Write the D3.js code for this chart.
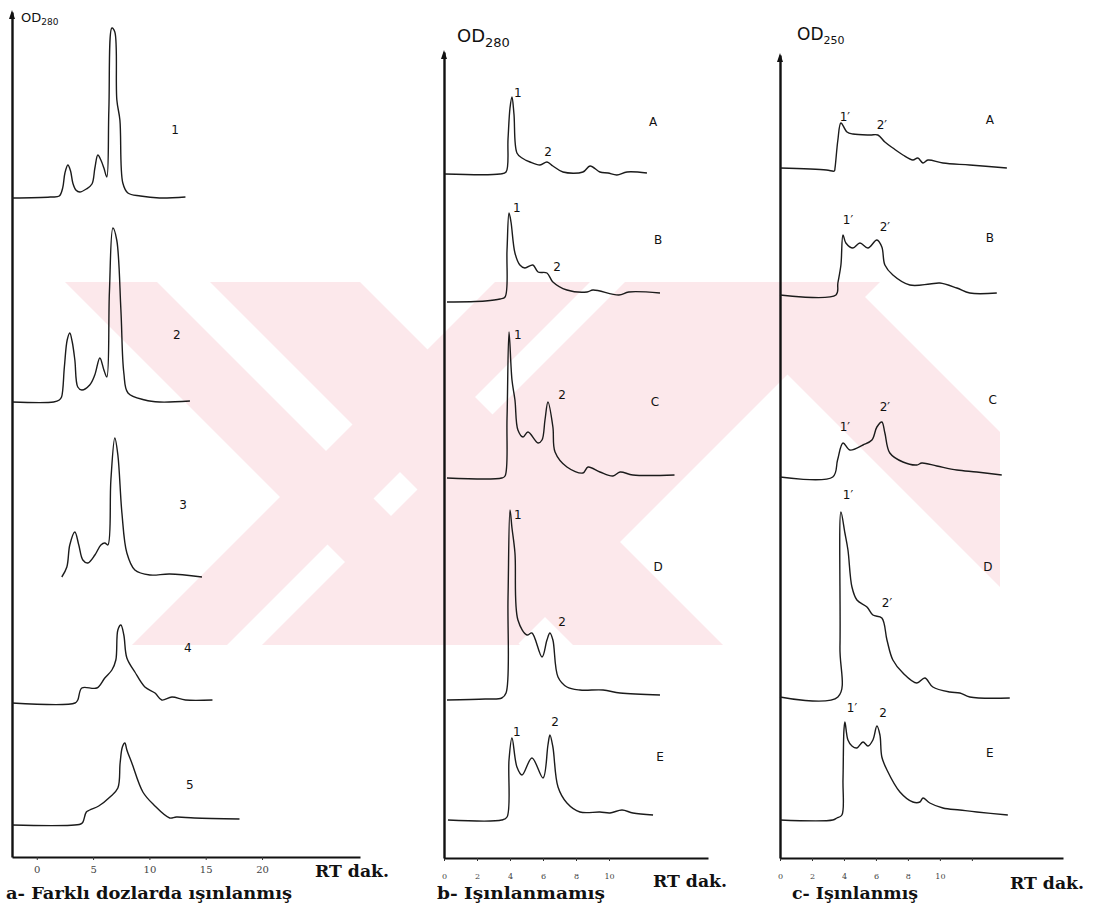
<!DOCTYPE html>
<html>
<head>
<meta charset="utf-8">
<script src="https://cdn.jsdelivr.net/npm/d3@7"></script>
<style>
  body { margin: 0; background: #fff; }
  text { fill: #111; }
</style>
</head>
<body>
<script>
// Chromatogram readings: [retention time (min), OD above the trace baseline]
// a- Farkli dozlarda isinlanmis (doses 1..5)
const traceA1 = [[-2.2,0],[1.2,0.01],[2.0,0.02],[2.3,0.1],[2.5,0.25],[2.76,0.33],[3.0,0.27],[3.2,0.15],[3.47,0.08],[3.82,0.06],[4.4,0.09],[4.9,0.14],[5.16,0.3],[5.42,0.43],[5.69,0.38],[5.96,0.3],[6.22,0.21],[6.4,0.88],[6.67,1.7],[6.93,1.66],[7.11,0.98],[7.38,0.78],[7.64,0.15],[8.09,0.05],[9.2,0.02],[10.9,0],[13.2,0.01]];
const traceA2 = [[-2.2,0],[1.5,0],[2.0,0.02],[2.2,0.05],[2.45,0.35],[2.7,0.62],[2.93,0.69],[3.15,0.6],[3.38,0.42],[3.64,0.15],[4.0,0.12],[4.7,0.17],[5.15,0.27],[5.6,0.44],[5.96,0.32],[6.22,0.25],[6.45,1.1],[6.76,1.74],[7.1,1.62],[7.47,0.92],[7.73,0.29],[8.1,0.09],[9.6,0.02],[10.9,0],[13.6,0.01]];
const traceA3 = [[2.22,0],[2.67,0.1],[2.93,0.32],[3.38,0.45],[3.73,0.32],[4.09,0.17],[4.53,0.14],[5.16,0.22],[5.69,0.32],[6.04,0.34],[6.31,0.32],[6.58,0.97],[6.93,1.39],[7.2,1.22],[7.56,0.64],[8.0,0.24],[8.71,0.07],[10.04,0.02],[11.8,0.03],[14.67,0]];
const traceA4 = [[-2.2,0],[3.4,0],[3.64,0.03],[4.0,0.15],[5.33,0.15],[6.04,0.25],[6.67,0.33],[7.02,0.43],[7.2,0.73],[7.47,0.78],[7.73,0.68],[8.0,0.45],[8.71,0.31],[9.6,0.16],[10.5,0.1],[11.1,0.03],[12.0,0.06],[13.2,0.03],[15.6,0.03]];
const traceA5 = [[-2.2,0],[3.9,0.01],[4.1,0.03],[4.4,0.13],[4.7,0.15],[5.5,0.19],[6.5,0.28],[7.2,0.37],[7.4,0.62],[7.6,0.78],[7.82,0.82],[8.0,0.75],[8.44,0.62],[9.42,0.33],[10.4,0.2],[11.8,0.07],[12.4,0.08],[14,0.07],[18.0,0.06]];

// b- Isinlanmamis (samples A..E)
const traceB1 = [[0.06,0],[3.39,0],[3.76,0.02],[3.88,0.35],[4.0,0.66],[4.12,0.77],[4.24,0.6],[4.42,0.21],[4.73,0.16],[5.21,0.12],[5.82,0.09],[6.24,0.12],[6.6,0.08],[7.21,0.02],[8.42,0.02],[8.85,0.08],[9.45,0.02],[9.94,0.01],[10.48,-0.01],[11.09,0.02],[12.3,0.01]];
const traceB2 = [[0.18,-0.02],[2.5,-0.01],[3.4,0.01],[3.7,0.03],[3.82,0.5],[3.94,0.87],[4.06,0.78],[4.3,0.47],[4.6,0.35],[4.9,0.32],[5.39,0.35],[5.7,0.28],[6.24,0.27],[6.6,0.18],[7.45,0.1],[8.67,0.08],[9.03,0.1],[10.6,0.05],[11.2,0.08],[13.09,0.07]];
const traceB3 = [[0.18,0],[3.5,0],[3.7,0.02],[3.82,0.6],[3.94,1.46],[4.12,0.98],[4.3,0.78],[4.48,0.48],[4.79,0.41],[5.09,0.46],[5.7,0.35],[5.94,0.38],[6.12,0.58],[6.3,0.76],[6.6,0.51],[6.73,0.26],[7.45,0.11],[8.42,0.05],[8.73,0.11],[9.45,0.06],[10.24,0.02],[10.67,0.06],[11.45,0.03],[13.97,0.03]];
const traceB4 = [[0.18,-0.02],[2.5,-0.01],[3.5,0],[3.76,0.05],[3.88,1.0],[4.0,1.88],[4.12,1.7],[4.3,1.45],[4.48,0.78],[5.03,0.63],[5.33,0.65],[5.94,0.41],[6.24,0.58],[6.42,0.65],[6.6,0.58],[6.91,0.21],[7.45,0.11],[8.24,0.08],[9.64,0.08],[10.67,0.05],[13.09,0.03]];
const traceB5 = [[0.24,0],[3.5,0],[3.82,0.03],[3.94,0.6],[4.12,0.82],[4.42,0.53],[4.73,0.45],[5.33,0.62],[6.0,0.42],[6.3,0.75],[6.42,0.85],[6.6,0.73],[6.91,0.33],[7.45,0.17],[8.24,0.08],[9.45,0.08],[10.06,0.07],[10.79,0.1],[11.45,0.07],[12.67,0.05]];

// c- Isinlanmis (samples A..E)
const traceC1 = [[0,0],[2.9,-0.02],[3.4,-0.03],[3.44,0],[3.62,0.28],[3.81,0.45],[4.19,0.36],[4.56,0.34],[5.63,0.33],[6.12,0.33],[6.56,0.26],[7.06,0.2],[7.69,0.13],[8.31,0.08],[8.62,0.1],[8.94,0.05],[9.25,0.08],[10.19,0.05],[11.87,0.03],[14.19,0]];
const traceC2 = [[0,0],[3.5,0],[3.62,0.12],[3.81,0.3],[3.94,0.6],[4.12,0.52],[4.56,0.47],[5.0,0.52],[5.5,0.47],[6.06,0.55],[6.37,0.48],[6.56,0.3],[7.06,0.2],[8.12,0.1],[9.37,0.11],[10.0,0.12],[11.06,0.07],[11.87,0.02],[13.56,0.02]];
const traceC3 = [[0,0],[3.3,0],[3.6,0.17],[3.94,0.34],[4.37,0.27],[5.19,0.32],[5.75,0.37],[6.06,0.5],[6.37,0.55],[6.56,0.44],[6.87,0.24],[7.69,0.15],[8.56,0.12],[8.87,0.14],[9.81,0.11],[11.06,0.07],[12.31,0.05],[13.87,0.02]];
const traceC4 = [[0,0],[3.62,0],[3.75,0.5],[3.81,1.85],[4.06,1.64],[4.25,1.47],[4.5,1.1],[4.81,0.97],[5.44,0.9],[5.81,0.82],[6.37,0.79],[6.69,0.57],[7.06,0.37],[7.69,0.24],[8.56,0.14],[9.06,0.19],[9.56,0.1],[10.62,0.05],[11.25,0.04],[11.87,0],[14.37,-0.01]];
const traceC5 = [[0,0],[3.3,0],[3.56,0.02],[3.87,0.05],[3.94,0.4],[4.0,0.9],[4.06,0.98],[4.25,0.8],[4.5,0.74],[4.81,0.72],[5.19,0.78],[5.5,0.74],[5.81,0.8],[6.06,0.94],[6.25,0.85],[6.37,0.63],[6.69,0.5],[7.5,0.28],[8.31,0.18],[8.75,0.18],[8.94,0.22],[9.37,0.17],[10.19,0.12],[11.25,0.1],[12.31,0.08],[14.25,0.05]];

// trace names: [name, t, od]
const namesA = [["1",12.27,0.68],["2",12.44,0.67],["3",12.98,0.72],["4",13.42,0.55],["5",13.6,0.4]];
const namesB = [["A",12.67,0.52],["B",12.97,0.6],["C",12.79,0.76],["D",12.97,1.31],["E",13.09,0.63]];
const namesC = [["A",13.12,0.48],["B",13.12,0.57],["C",13.31,0.77],["D",13.0,1.3],["E",13.12,0.67]];

// peak numbers: [trace index, text, t, od]
const peaksB = [[0,"1",4.48,0.81],[0,"2",6.3,0.22],[1,"1",4.42,0.92],[1,"2",6.85,0.33],[2,"1",4.48,1.43],[2,"2",7.15,0.83],
                [3,"1",4.48,1.83],[3,"2",7.15,0.76],[4,"1",4.42,0.88],[4,"2",6.73,0.98]];
const peaksC = [[0,"1\u2032",4.06,0.51],[0,"2\u2032",6.37,0.43],[1,"1\u2032",4.25,0.75],[1,"2\u2032",6.56,0.68],[2,"1\u2032",4.06,0.5],[2,"2\u2032",6.56,0.7],
                [3,"1\u2032",4.25,2.02],[3,"2\u2032",6.69,0.94],[4,"1\u2032",4.5,1.12],[4,"2",6.44,1.07]];

const ticksA = [0, 5, 10, 15, 20];
const ticksB = [0, 2, 4, 6, 8, 10];
const ticksC = [0, 2, 4, 6, 8, 10, 12];

// layout of the three panels
const panels = [
  { traces: [traceA1, traceA2, traceA3, traceA4, traceA5], names: namesA, peaks: [],
    offsets: [6.59, 4.55, 2.80, 1.54, 0.32], xDomain: [-2.2, 28.7], xRange: [12, 360],
    axisY: 857, axisTop: 12, yMax: 8.45, ticks: ticksA, tickFont: 10, tickY: 9,
    od: "280", odX: 21, odY: 22, odSize: 13, odSub: 9,
    rtX: 315, rtY: 877, title: "a- Farkl\u0131 dozlarda \u0131\u015f\u0131nlanm\u0131\u015f", titleX: 6, titleW: 286 },
  { traces: [traceB1, traceB2, traceB3, traceB4, traceB5], names: namesB, peaks: peaksB,
    offsets: [6.84, 5.58, 3.80, 1.60, 0.38], xDomain: [0, 16], xRange: [444, 708],
    axisY: 858, axisTop: 52, yMax: 8.06, ticks: ticksB, tickFont: 8, tickY: 15,
    od: "280", odX: 457, odY: 42, odSize: 18, odSub: 13,
    rtX: 653, rtY: 887, title: "b- I\u015f\u0131nlanmam\u0131\u015f", titleX: 437, titleW: 168 },
  { traces: [traceC1, traceC2, traceC3, traceC4, traceC5], names: namesC, peaks: peaksC,
    offsets: [6.90, 5.63, 3.81, 1.61, 0.38], xDomain: [0, 17.7], xRange: [780, 1063],
    axisY: 858, axisTop: 55, yMax: 8.03, ticks: ticksC, tickFont: 8, tickY: 15,
    od: "250", odX: 797, odY: 40, odSize: 17, odSub: 11,
    rtX: 1010, rtY: 889, title: "c- I\u015f\u0131nlanm\u0131\u015f", titleX: 792, titleW: 126 }
];

const svg = d3.select("body").append("svg")
    .attr("width", 1100)
    .attr("height", 916);

// faint pink watermark from the scan (crossing striped bands)
svg.append("clipPath").attr("id", "wmclip")
  .append("rect").attr("x", 65).attr("y", 282).attr("width", 935).attr("height", 363);
const wm = svg.append("g").attr("clip-path", "url(#wmclip)").attr("fill", "#fce8eb");
const wmShapes = [
  [[65,282],[157,282],[520,645],[428,645]],
  [[210,282],[360,282],[723,645],[573,645]],
  [[495,282],[590,282],[227,645],[132,645]],
  [[625,282],[880,282],[517,645],[262,645]],
  [[695,282],[850,282],[1213,645],[1058,645]]
];
wm.selectAll("polygon").data(wmShapes).enter().append("polygon")
    .attr("points", d => d.map(p => p.join(",")).join(" "));

panels.forEach(function (p) {
    var x = d3.scaleLinear().domain(p.xDomain).range(p.xRange);
    var y = d3.scaleLinear().domain([0, p.yMax]).range([p.axisY, p.axisTop]);

    // x axis
    var gx = svg.append("g")
        .attr("transform", `translate(0, ${p.axisY})`)
        .call(d3.axisBottom(x).tickValues(p.ticks).tickSize(3).tickSizeOuter(0)
              .tickFormat(d => d === 12 ? "" : d));
    gx.select(".domain").attr("stroke", "#111").attr("stroke-width", 2);
    gx.selectAll(".tick line").attr("stroke", "#333");
    gx.selectAll(".tick text")
        .attr("y", p.tickY)
        .style("font-family", "'DejaVu Serif', serif")
        .style("font-size", p.tickFont + "px")
        .style("fill", "#444");

    // y axis with arrow
    var gy = svg.append("g")
        .attr("transform", `translate(${p.xRange[0]}, 0)`)
        .call(d3.axisLeft(y).tickValues([]).tickSizeOuter(0));
    gy.select(".domain").attr("stroke", "#111").attr("stroke-width", 2.4);
    svg.append("path")
        .attr("d", d3.line()([[p.xRange[0] - 3, p.axisTop + 7], [p.xRange[0], p.axisTop - 2], [p.xRange[0] + 3, p.axisTop + 7]]))
        .attr("fill", "#111");

    // OD label
    var od = svg.append("text")
        .attr("x", p.odX).attr("y", p.odY)
        .style("font-family", "'DejaVu Sans', sans-serif")
        .style("font-size", p.odSize + "px")
        .text("OD");
    od.append("tspan").attr("dy", p.odSize * 0.25).style("font-size", p.odSub + "px").text(p.od);

    // traces
    p.traces.forEach(function (tr, i) {
        var off = p.offsets[i];
        var line = d3.line()
            .x(d => x(d[0]))
            .y(d => y(off + d[1]))
            .curve(d3.curveCatmullRom.alpha(0.5));
        svg.append("path").datum(tr)
            .attr("d", line)
            .attr("fill", "none")
            .attr("stroke", "#1b1b1b")
            .attr("stroke-width", 1.4)
            .attr("stroke-linejoin", "round");
    });

    // trace names
    svg.selectAll(null).data(p.names).enter().append("text")
        .attr("x", d => x(d[1]))
        .attr("y", (d, i) => y(p.offsets[i] + d[2]))
        .attr("text-anchor", "middle")
        .attr("dominant-baseline", "central")
        .style("font-family", "'DejaVu Sans', sans-serif")
        .style("font-size", "12px")
        .text(d => d[0]);

    // peak numbers
    svg.selectAll(null).data(p.peaks).enter().append("text")
        .attr("x", d => x(d[2]))
        .attr("y", d => y(p.offsets[d[0]] + d[3]))
        .attr("text-anchor", "middle")
        .attr("dominant-baseline", "central")
        .style("font-family", "'DejaVu Sans', sans-serif")
        .style("font-size", "12px")
        .text(d => d[1]);

    // RT dak.
    svg.append("text")
        .attr("x", p.rtX).attr("y", p.rtY)
        .attr("textLength", 74).attr("lengthAdjust", "spacingAndGlyphs")
        .style("font-family", "'DejaVu Serif', serif")
        .style("font-weight", "bold")
        .style("font-size", "17px")
        .text("RT dak.");

    // panel title
    svg.append("text")
        .attr("x", p.titleX).attr("y", 899)
        .attr("textLength", p.titleW).attr("lengthAdjust", "spacingAndGlyphs")
        .style("font-family", "'DejaVu Serif', serif")
        .style("font-weight", "bold")
        .style("font-size", "17px")
        .text(p.title);
});
</script>
</body>
</html>
